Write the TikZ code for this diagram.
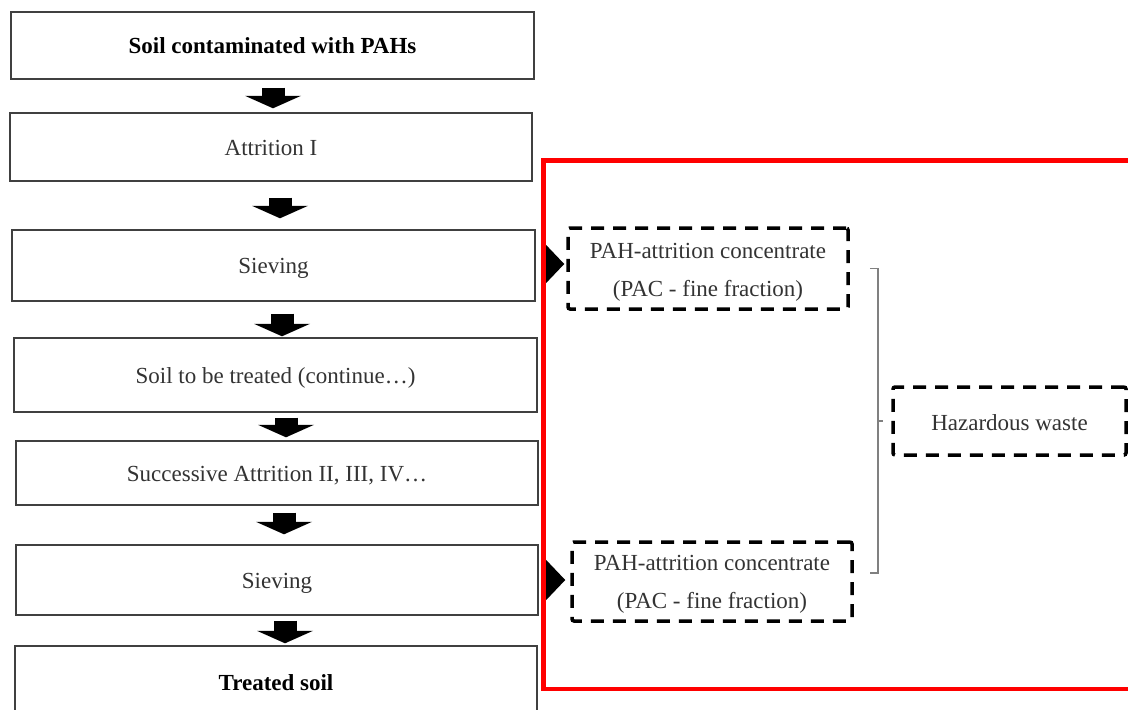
\documentclass[tikz,border=0pt]{standalone}
\usepackage{fontspec}
\setmainfont{Liberation Serif}
\usetikzlibrary{arrows.meta,calc}
\definecolor{boxline}{HTML}{404040}
\definecolor{txt}{HTML}{333333}
\definecolor{brkgray}{HTML}{808080}
\begin{document}
\begin{tikzpicture}[x=1pt,y=-1pt,
  procbox/.style={draw=boxline,line width=1.4pt,inner sep=0pt,text=txt,
    text height=21pt,text depth=5pt,font=\fontsize{23}{28}\selectfont},
  boldbox/.style={procbox,text=black,font=\fontsize{23}{28}\selectfont\bfseries},
  dbox/.style={draw=black,line width=3.5pt,dash pattern=on 13pt off 9pt,
    rounded corners=2pt,inner sep=0pt},
  lbl/.style={text=txt,align=center,inner sep=0pt,font=\fontsize{23}{38}\selectfont},
  blk/.style={line width=23pt,-{Triangle[width=56pt,length=12.5pt,line width=0pt]}},
  rblk/.style={line width=20pt,-{Triangle[width=42pt,length=20pt,line width=0pt]}},
  brk/.style={draw=brkgray,line width=1.5pt}]
\useasboundingbox (0,0) rectangle (1128,710);
\clip (0,0) rectangle (1128,710);
\fill[white] (0,0) rectangle (1128,710);

% left column
\node[boldbox,minimum width=523pt,minimum height=67pt] (b1) at (272.5,45.5) {Soil contaminated with PAHs};
\node[procbox,minimum width=522pt,minimum height=68pt] (b2) at (271,147) {Attrition I};
\node[procbox,minimum width=523pt,minimum height=71pt] (b3) at (273.5,265.5) {Sieving};
\node[procbox,minimum width=523pt,minimum height=74pt] (b4) at (275.5,375) {Soil to be treated (continue…)};
\node[procbox,minimum width=522pt,minimum height=64pt] (b5) at (277,473) {Successive Attrition II, III, IV…};
\node[procbox,minimum width=522pt,minimum height=70pt] (b6) at (277,580) {Sieving};
\node[boldbox,minimum width=522pt,minimum height=72pt] (b7) at (276,682) {Treated soil};

% down arrows
\draw[blk,shorten <=8pt,shorten >=4pt] ([xshift=.5pt]b1.south) -- ([xshift=.5pt]b1.south |- b2.north);
\draw[blk,shorten <=16pt,shorten >=11pt] ([xshift=9pt]b2.south) -- ([xshift=9pt]b2.south |- b3.north);
\draw[blk,shorten <=12pt,shorten >=1pt] ([xshift=8.5pt]b3.south) -- ([xshift=8.5pt]b3.south |- b4.north);
\draw[blk,shorten <=5pt,shorten >=3pt] ([xshift=10.5pt]b4.south) -- ([xshift=10.5pt]b4.south |- b5.north);
\draw[blk,shorten <=7pt,shorten >=10pt] ([xshift=7pt]b5.south) -- ([xshift=7pt]b5.south |- b6.north);
\draw[blk,shorten <=5pt,shorten >=2pt] ([xshift=8pt]b6.south) -- ([xshift=8pt]b6.south |- b7.north);

% right side boxes
\node[dbox,minimum width=280pt,minimum height=81pt,
  label={[lbl,yshift=-4pt]center:PAH-attrition concentrate\\(PAC - fine fraction)}] (pac1) at (708,268.5) {};
\node[dbox,minimum width=280pt,minimum height=79pt,
  label={[lbl,yshift=-3pt]center:PAH-attrition concentrate\\(PAC - fine fraction)}] (pac2) at (712,581.5) {};
\node[dbox,minimum width=233pt,minimum height=68pt,
  label={[lbl,yshift=-1.5pt]center:Hazardous waste}] (haz) at (1009.5,421) {};

% right arrows
\draw[rblk,shorten <=8pt,shorten >=2pt] ([yshift=1.5pt]b3.east) -- ([yshift=1.5pt]b3.east -| pac1.west);
\draw[rblk,shorten <=5pt,shorten >=5pt] (b6.east) -- (b6.east -| pac2.west);

% red frame
\draw[red,line width=4.5pt] (543.5,160.5) rectangle (1150,689);

% bracket
\coordinate (bt) at ($(pac1.east)+(20pt,0)$);
\coordinate (bb) at ($(pac2.east)+(16pt,8.5pt)$);
\draw[brk] (bt) -- ++(8,0) coordinate (bt2) -- (bt2 |- bb) -- (bb);
\coordinate (bm) at (bt2 |- haz.west);
\draw[brk,shorten >=8pt] (bm) -- (haz.west);
\end{tikzpicture}
\end{document}
